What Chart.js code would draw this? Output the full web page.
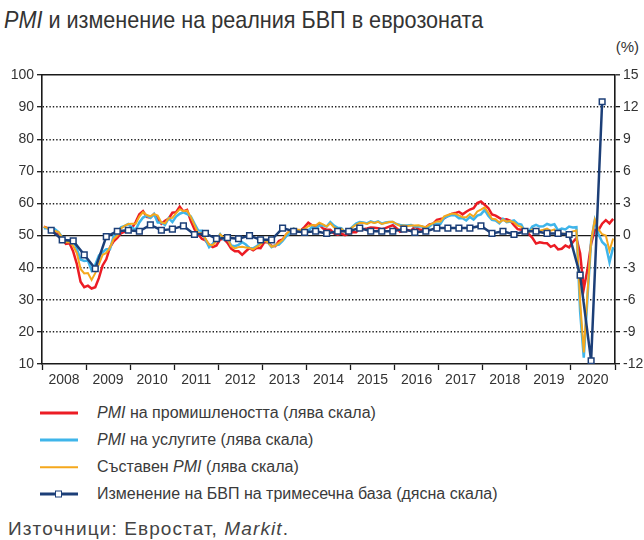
<!DOCTYPE html>
<html>
<head>
<meta charset="utf-8">
<script src="https://cdn.jsdelivr.net/npm/chart.js@4/dist/chart.umd.min.js"></script>
<style>
    body { margin: 0; background: #fff; font-family: "Liberation Sans", Arial, sans-serif; color: #333; }
    #page { position: relative; width: 644px; height: 540px; overflow: hidden; }
    .title { position: absolute; left: 4px; top: 6px; font-size: 24px; white-space: nowrap; transform: scaleX(0.9); transform-origin: left top; }
    .unit { position: absolute; right: 5px; top: 38px; font-size: 15px; }
    #chartBox { position: absolute; left: 0; top: 60px; width: 644px; height: 330px; }
    .legend-row { position: absolute; left: 40px; height: 20px; line-height: 20px; font-size: 16px; white-space: nowrap; color: #3a3a3a; }
    .swatch { position: absolute; left: 0; top: 50%; width: 38px; transform: translateY(-50%); }
    .swatch .mark { position: absolute; left: 15px; top: 50%; width: 5px; height: 5px; margin-top: -4px; background: #fff; border: 1.5px solid #1c3f78; }
    .legend-row .text { position: absolute; left: 57px; top: 0; }
    .source { position: absolute; left: 8px; top: 518px; font-size: 19px; letter-spacing: 1.1px; color: #444; white-space: nowrap; }
</style>
</head>
<body>
<div id="page">
    <div class="title"><i>PMI</i> и изменение на реалния БВП в еврозоната</div>
    <div class="unit">(%)</div>
    <div id="chartBox"><canvas id="pmiChart" width="644" height="330"></canvas></div>

    <div class="legend-row" style="top: 403px;"><span class="swatch" style="height: 3px; background: #ec1c24;"></span><span class="text"><i>PMI</i> на промишлеността (лява скала)</span></div>
    <div class="legend-row" style="top: 430px;"><span class="swatch" style="height: 3px; background: #3fb5ea;"></span><span class="text"><i>PMI</i> на услугите (лява скала)</span></div>
    <div class="legend-row" style="top: 457px;"><span class="swatch" style="height: 1.5px; background: #f5a81c;"></span><span class="text">Съставен <i>PMI</i> (лява скала)</span></div>
    <div class="legend-row" style="top: 484px;"><span class="swatch" style="height: 3px; background: #1c3f78;"><span class="mark"></span></span><span class="text">Изменение на БВП на тримесечна база (дясна скала)</span></div>

    <div class="source">Източници: Евростат, <i>Markit</i>.</div>
</div>

<script>
// monthly PMI, Jan 2008 - Dec 2020
const startYear = 2008;
const endYear = 2021;

const industryPmi = [
    52.8, 52.3, 52.0, 50.7, 50.6, 49.2, 47.4, 47.6, 45.0, 41.1, 35.6, 33.9,
    34.4, 33.5, 33.9, 36.8, 40.7, 42.6, 46.3, 48.2, 49.3, 50.7, 51.2, 51.6,
    52.4, 54.2, 56.6, 57.6, 55.8, 55.6, 56.7, 55.1, 53.7, 54.6, 55.3, 57.1,
    57.3, 59.0, 57.5, 58.0, 54.6, 52.0, 50.4, 49.0, 48.5, 47.1, 46.4, 46.9,
    48.8, 49.0, 47.7, 45.9, 45.1, 45.1, 44.0, 45.1, 46.1, 45.4, 46.2, 46.1,
    47.9, 47.9, 46.8, 46.7, 48.3, 48.8, 50.3, 51.4, 51.1, 51.3, 51.6, 52.7,
    54.0, 53.2, 53.0, 53.4, 52.2, 51.8, 51.8, 50.7, 50.3, 50.6, 50.1, 50.6,
    51.0, 51.0, 52.2, 52.0, 52.2, 52.5, 52.4, 52.3, 52.0, 52.3, 52.8, 53.2,
    52.3, 51.2, 51.6, 51.7, 51.5, 52.8, 52.0, 51.7, 52.6, 53.5, 53.7, 54.9,
    55.2, 55.4, 56.2, 56.7, 57.0, 57.4, 56.6, 57.4, 58.1, 58.5, 60.1, 60.6,
    59.6, 58.6, 56.6, 56.2, 55.5, 54.9, 55.1, 54.6, 53.2, 52.0, 51.8, 51.4,
    50.5, 49.3, 47.5, 47.9, 47.7, 47.6, 46.5, 47.0, 45.7, 45.9, 46.9, 46.3,
    47.9, 49.2, 44.5, 33.4, 39.4, 47.4, 51.8, 51.7, 53.7, 54.8, 53.8, 55.2
];

const servicesPmi = [
    52.3, 52.3, 51.6, 52.0, 51.1, 49.5, 48.3, 48.5, 48.4, 45.8, 42.5, 42.1,
    42.2, 39.2, 40.9, 43.8, 44.8, 45.7, 45.7, 49.9, 50.9, 52.6, 53.0, 53.6,
    52.5, 51.8, 54.1, 55.6, 56.2, 55.5, 56.7, 54.1, 54.1, 53.3, 55.4, 54.2,
    55.9, 56.8, 57.2, 56.7, 56.0, 53.7, 51.6, 51.5, 48.8, 46.4, 47.5, 48.8,
    50.4, 48.8, 49.2, 46.9, 46.7, 47.1, 47.9, 47.2, 46.1, 46.0, 46.7, 47.8,
    48.6, 47.9, 46.4, 47.0, 47.2, 48.3, 49.8, 50.7, 52.2, 51.6, 51.2, 51.0,
    51.6, 52.6, 52.2, 53.1, 53.2, 52.8, 54.2, 53.1, 52.4, 52.3, 51.1, 51.6,
    52.7, 53.7, 54.2, 54.1, 53.8, 54.4, 54.0, 54.4, 53.7, 54.1, 54.2, 54.2,
    53.6, 53.3, 53.1, 53.1, 53.3, 52.8, 52.9, 52.8, 52.2, 52.8, 53.8, 53.7,
    53.7, 55.5, 56.0, 56.4, 56.3, 55.4, 55.4, 54.7, 55.8, 55.0, 56.2, 56.6,
    58.0, 56.2, 54.9, 54.7, 53.8, 55.2, 54.2, 54.4, 54.7, 53.7, 53.4, 51.2,
    51.2, 52.8, 53.3, 52.8, 52.9, 53.6, 53.2, 53.5, 51.6, 52.2, 51.9, 52.8,
    52.5, 52.6, 26.4, 12.0, 30.5, 48.3, 54.7, 50.5, 48.0, 46.9, 41.7, 46.4
];

const compositePmi = [
    52.8, 52.3, 51.7, 51.4, 51.1, 49.3, 47.9, 48.0, 46.7, 44.5, 39.6, 38.2,
    38.3, 36.2, 38.3, 41.1, 44.0, 44.6, 46.3, 48.9, 50.0, 52.2, 53.0, 53.6,
    53.7, 53.7, 55.9, 57.3, 56.4, 56.0, 56.7, 56.2, 54.1, 53.8, 55.4, 55.5,
    57.0, 58.2, 57.6, 57.8, 55.8, 53.3, 50.7, 50.7, 49.1, 47.2, 47.0, 48.3,
    50.4, 49.3, 49.1, 46.7, 46.0, 46.4, 46.5, 46.3, 46.1, 45.7, 46.5, 47.2,
    48.6, 47.9, 46.5, 46.9, 47.7, 48.7, 50.5, 51.5, 52.2, 51.9, 51.7, 52.1,
    52.9, 53.3, 53.1, 54.0, 53.5, 52.8, 53.8, 52.5, 52.0, 52.1, 51.1, 51.4,
    52.6, 53.3, 54.0, 53.9, 53.6, 54.2, 53.9, 54.3, 53.6, 53.9, 54.2, 54.3,
    53.6, 53.0, 53.1, 53.0, 53.1, 53.1, 53.2, 52.9, 52.6, 53.3, 53.9, 54.4,
    54.4, 56.0, 56.4, 56.8, 56.8, 56.3, 55.7, 55.7, 56.7, 55.9, 57.5, 58.1,
    58.8, 57.1, 55.2, 55.1, 54.1, 54.9, 54.3, 54.5, 54.1, 53.1, 52.7, 51.1,
    51.0, 51.9, 51.6, 51.5, 51.8, 52.2, 51.5, 51.9, 50.1, 50.6, 50.6, 50.9,
    51.3, 51.6, 29.7, 13.6, 31.9, 48.5, 54.9, 51.9, 50.4, 50.0, 45.3, 49.1
];

// quarterly real GDP change q/q, %, Q1 2008 - Q3 2020
const gdpChange = [
    0.5, -0.4, -0.5, -1.8,
    -3.1, -0.1, 0.4, 0.5,
    0.4, 1.0, 0.5, 0.6,
    0.9, 0.1, 0.2, -0.3,
    -0.2, -0.3, 0.0, -0.4,
    -0.4, 0.7, 0.4, 0.3,
    0.4, 0.2, 0.4, 0.4,
    0.7, 0.4, 0.4, 0.4,
    0.6, 0.3, 0.4, 0.7,
    0.7, 0.7, 0.7, 0.9,
    0.2, 0.4, 0.1, 0.4,
    0.4, 0.2, 0.2, 0.1,
    -3.7, -11.7, 12.5
];

const leftTicks = { min: 10, max: 100, step: 10 };
const rightTicks = { min: -12, max: 15, step: 3 };

// month i -> middle of that month on the year axis
const monthX = i => startYear + (i + 0.5) / 12;
const toMonthly = values => values.map((v, i) => ({ x: monthX(i), y: v }));
// quarter q -> middle of its last month
const toQuarterly = values => values.map((v, q) => ({ x: monthX(q * 3 + 2), y: v }));

const axisColor = '#1a1a1a';
const tickFont = { family: '"Liberation Sans", Arial, sans-serif', size: 14 };

new Chart(document.getElementById('pmiChart'), {
    type: 'line',
    data: {
        datasets: [
            {
                label: 'Изменение на БВП на тримесечна база (дясна скала)',
                data: toQuarterly(gdpChange),
                yAxisID: 'yRight',
                borderColor: '#1c3f78',
                borderWidth: 2.5,
                pointStyle: 'rect',
                pointRadius: 4,
                pointBorderWidth: 1.5,
                pointBackgroundColor: '#fff',
                pointBorderColor: '#1c3f78',
                order: 0
            },
            {
                label: 'Съставен PMI (лява скала)',
                data: toMonthly(compositePmi),
                yAxisID: 'yLeft',
                borderColor: '#f5a81c',
                borderWidth: 2,
                pointRadius: 0,
                order: 1
            },
            {
                label: 'PMI на услугите (лява скала)',
                data: toMonthly(servicesPmi),
                yAxisID: 'yLeft',
                borderColor: '#3fb5ea',
                borderWidth: 2.5,
                pointRadius: 0,
                order: 2
            },
            {
                label: 'PMI на промишлеността (лява скала)',
                data: toMonthly(industryPmi),
                yAxisID: 'yLeft',
                borderColor: '#ec1c24',
                borderWidth: 2.5,
                pointRadius: 0,
                order: 3
            }
        ]
    },
    options: {
        responsive: false,
        animation: false,
        events: [],
        layout: { padding: { top: 15, left: 0, right: 0, bottom: 0 } },
        plugins: { legend: { display: false }, tooltip: { enabled: false } },
        scales: {
            x: {
                type: 'linear',
                min: startYear,
                max: endYear,
                afterFit: scale => { scale.height = 26; },
                ticks: {
                    stepSize: 1,
                    autoSkip: false,
                    maxRotation: 0,
                    labelOffset: 22,
                    padding: 2,
                    color: '#333',
                    font: tickFont,
                    callback: value => value < endYear ? String(value) : ''
                },
                grid: { drawOnChartArea: false, tickLength: 6, tickColor: axisColor, tickWidth: 1.3 },
                border: { color: axisColor, width: 1.6 }
            },
            yLeft: {
                position: 'left',
                min: leftTicks.min,
                max: leftTicks.max,
                afterFit: scale => { scale.width = 42; },
                ticks: { stepSize: leftTicks.step, padding: 3, color: '#333', font: tickFont },
                grid: {
                    color: ctx => [10, 50, 100].includes(ctx.tick.value) ? 'transparent' : '#222',
                    lineWidth: 1.4,
                    tickLength: 5,
                    tickColor: axisColor,
                    tickWidth: 1.3
                },
                border: { color: axisColor, width: 1.6, dash: [1.4, 2] }
            },
            yRight: {
                position: 'right',
                min: rightTicks.min,
                max: rightTicks.max,
                afterFit: scale => { scale.width = 29; },
                ticks: { stepSize: rightTicks.step, padding: 3, color: '#333', font: tickFont, callback: value => String(value) },
                grid: {
                    color: ctx => [0, 15].includes(ctx.tick.value) ? axisColor : 'transparent',
                    lineWidth: ctx => ctx.tick.value === 15 ? 1.6 : 1.3,
                    tickLength: 5,
                    tickColor: axisColor,
                    tickWidth: 1.3
                },
                border: { color: axisColor, width: 1.6 }
            }
        }
    }
});
</script>
</body>
</html>
